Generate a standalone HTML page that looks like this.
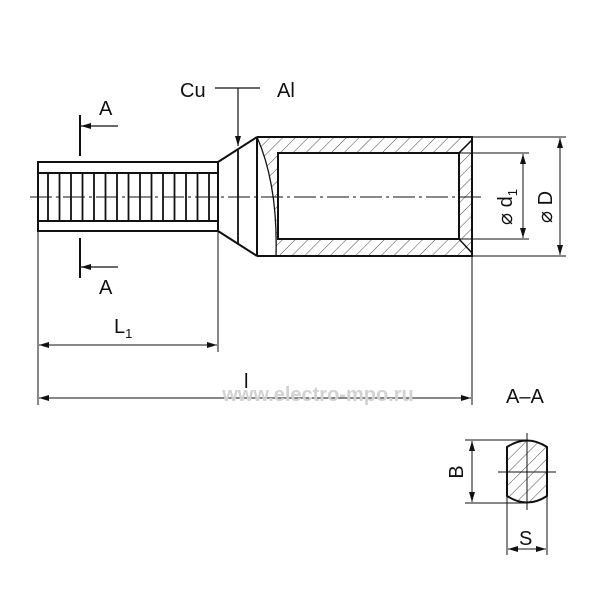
<!DOCTYPE html>
<html><head><style>body{margin:0;background:#fff}svg{display:block}</style></head><body>
<svg width="600" height="600" viewBox="0 0 600 600" xmlns="http://www.w3.org/2000/svg" font-family="Liberation Sans, DejaVu Sans, sans-serif">
<defs>
<pattern id="h" width="9" height="9" patternUnits="userSpaceOnUse" patternTransform="rotate(45)">
<line x1="0" y1="0" x2="0" y2="9" stroke="#333" stroke-width="0.9"/></pattern>
<marker id="ar" viewBox="0 0 10 6" refX="10" refY="3" markerWidth="10" markerHeight="6" orient="auto-start-reverse" markerUnits="userSpaceOnUse"><path d="M0,0L10,3L0,6z" fill="#111"/></marker>
</defs>
<g stroke="#111" fill="none">
<rect x="38" y="162" width="180" height="69" stroke-width="2"/>
<line x1="38" y1="173" x2="218" y2="173" stroke-width="2"/>
<line x1="38" y1="221" x2="218" y2="221" stroke-width="2"/>
<g stroke-width="1.8">
<line x1="48" y1="173" x2="48" y2="221"/><line x1="59.5" y1="173" x2="59.5" y2="221"/><line x1="71" y1="173" x2="71" y2="221"/><line x1="82.5" y1="173" x2="82.5" y2="221"/><line x1="94" y1="173" x2="94" y2="221"/><line x1="105.5" y1="173" x2="105.5" y2="221"/><line x1="117" y1="173" x2="117" y2="221"/><line x1="128.5" y1="173" x2="128.5" y2="221"/><line x1="140" y1="173" x2="140" y2="221"/><line x1="151.5" y1="173" x2="151.5" y2="221"/><line x1="163" y1="173" x2="163" y2="221"/><line x1="174.5" y1="173" x2="174.5" y2="221"/><line x1="186" y1="173" x2="186" y2="221"/><line x1="197.5" y1="173" x2="197.5" y2="221"/><line x1="209" y1="173" x2="209" y2="221"/>
</g>
<path d="M218,162 L257,137 M218,231 L257,256" stroke-width="2"/>
<line x1="238" y1="149" x2="238" y2="244" stroke-width="1.8"/>
<line x1="257" y1="137" x2="257" y2="256" stroke-width="2"/>
<path d="M257,137 L472,137 L472,256 L276,256 Q278,185 257,137 Z M278,153 L278,239 L459,239 L459,153 Z" fill="url(#h)" fill-rule="evenodd" stroke="none"/>
<path d="M257,137 L472,137 L472,256 L257,256" stroke-width="2"/>
<path d="M257,137 Q278,185 276,256" stroke-width="1.3"/>
<rect x="278" y="153" width="181" height="86" stroke-width="2"/>
<path d="M459,153 L472,140 M459,239 L472,253" stroke-width="1.5"/>
<line x1="30" y1="197" x2="485" y2="197" stroke-width="1" stroke-dasharray="22,4,3,4"/>
<line x1="215" y1="88" x2="260" y2="88" stroke-width="1.2"/>
<line x1="238" y1="88" x2="238" y2="146" stroke-width="1.2" marker-end="url(#ar)"/>
<line x1="80" y1="115" x2="80" y2="156" stroke-width="2"/>
<line x1="118" y1="126" x2="81" y2="126" stroke-width="1.2" marker-end="url(#ar)"/>
<line x1="80" y1="238" x2="80" y2="278" stroke-width="2"/>
<line x1="118" y1="267" x2="81" y2="267" stroke-width="1.2" marker-end="url(#ar)"/>
<g stroke-width="1">
<line x1="472" y1="137" x2="566" y2="137"/><line x1="472" y1="256" x2="566" y2="256"/>
<line x1="459" y1="153" x2="529" y2="153"/><line x1="459" y1="239" x2="529" y2="239"/>
<line x1="523" y1="154" x2="523" y2="238" marker-start="url(#ar)" marker-end="url(#ar)"/>
<line x1="560" y1="138" x2="560" y2="255" marker-start="url(#ar)" marker-end="url(#ar)"/>
<line x1="38" y1="231" x2="38" y2="405"/><line x1="218" y1="231" x2="218" y2="352"/>
<line x1="472" y1="256" x2="472" y2="405"/>
<line x1="39" y1="345" x2="217" y2="345" marker-start="url(#ar)" marker-end="url(#ar)"/>
<line x1="39" y1="398" x2="471" y2="398" marker-start="url(#ar)" marker-end="url(#ar)"/>
</g>
<path d="M507,447 Q527,434 547,447 L547,496 Q527,509 507,496 Z" fill="url(#h)" stroke-width="2"/>
<g stroke-width="1">
<line x1="527" y1="433" x2="527" y2="510"/><line x1="498" y1="472" x2="556" y2="472"/>
<line x1="465" y1="440" x2="527" y2="440"/><line x1="465" y1="503" x2="527" y2="503"/>
<line x1="472" y1="441" x2="472" y2="502" marker-start="url(#ar)" marker-end="url(#ar)"/>
<line x1="507" y1="496" x2="507" y2="555"/><line x1="547" y1="496" x2="547" y2="555"/>
<line x1="508" y1="549" x2="546" y2="549" marker-start="url(#ar)" marker-end="url(#ar)"/>
</g>
</g>
<text x="318" y="401" font-size="20" fill="#d2d2d2" text-anchor="middle" font-weight="bold">www.electro-mpo.ru</text>
<g fill="#111" font-size="20">
<text x="180" y="97">Cu</text>
<text x="277" y="97">Al</text>
<text x="99" y="115">A</text>
<text x="99" y="294">A</text>
<text x="114" y="333">L<tspan font-size="13" dy="5">1</tspan></text>
<text x="244" y="388">l</text>
<text x="506" y="403">A–A</text>
<text x="519" y="545">S</text>
<text transform="translate(463,472) rotate(-90)" text-anchor="middle">B</text>
<text transform="translate(512,207) rotate(-90)" text-anchor="middle">⌀ d<tspan font-size="13" dy="5">1</tspan></text>
<text transform="translate(552,207) rotate(-90)" text-anchor="middle">⌀ D</text>
</g>
</svg>
</body></html>
